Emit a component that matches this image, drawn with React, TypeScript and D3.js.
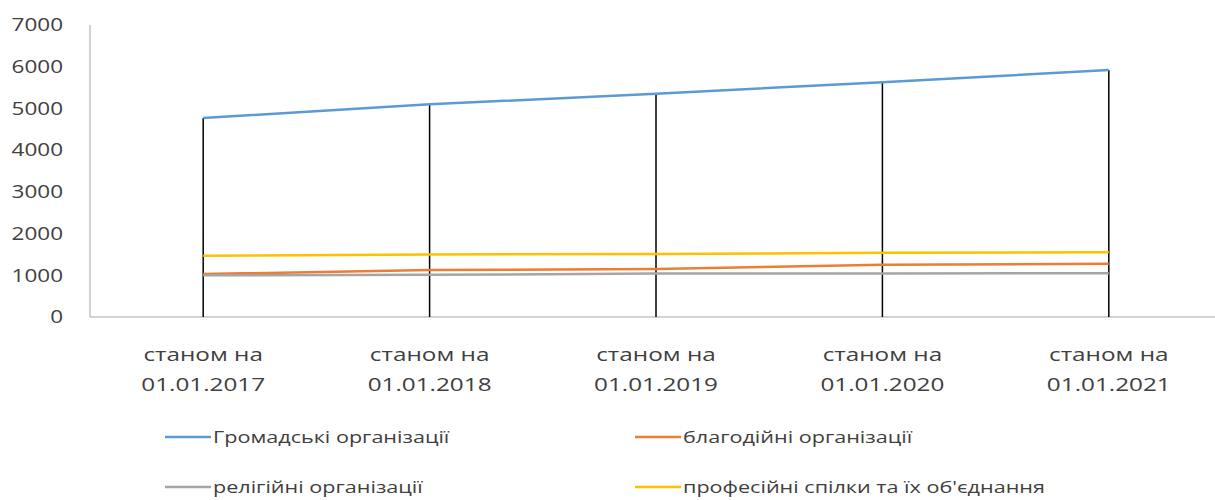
import React from "react";
import * as d3 from "d3";

const categories = ["01.01.2017", "01.01.2018", "01.01.2019", "01.01.2020", "01.01.2021"];
const gromadski = [4770, 5100, 5350, 5630, 5920];
const blagodiini = [1030, 1125, 1150, 1250, 1275];
const religiini = [1000, 1010, 1040, 1045, 1050];
const profspilky = [1470, 1500, 1510, 1540, 1550];
const yTicks = [0, 1000, 2000, 3000, 4000, 5000, 6000, 7000];

const series = [
  { name: "Громадські організації", values: gromadski, color: "#5B9BD5" },
  { name: "благодійні організації", values: blagodiini, color: "#ED7D31" },
  { name: "релігійні організації", values: religiini, color: "#A5A5A5" },
  { name: "професійні спілки та їх об'єднання", values: profspilky, color: "#FFC000" },
];

const App = () => {
  const svgRef = React.useRef<SVGSVGElement>(null);
  const width = 1215;
  const height = 500;

  React.useEffect(() => {
    const svg = d3.select(svgRef.current);
    svg.selectAll("*").remove();

    const left = 90;
    const x = d3.scaleBand().domain(categories).range([left, left + 5 * 226.4]);
    const cx = (c: string) => (x(c) as number) + x.bandwidth() / 2;
    const y = d3.scaleLinear().domain([0, 7000]).range([317, 25]);

    const font = "'Open Sans', 'Noto Sans', sans-serif";
    // the source text is rendered wide, so stretch it horizontally
    const label = (sel: any, tx: any, ty: any, sx: number, size = 18) =>
      sel.append("g").attr("transform", (d: any, i: number) =>
        `translate(${typeof tx === "function" ? tx(d, i) : tx},${typeof ty === "function" ? ty(d, i) : ty}) scale(${sx},1)`)
        .append("text")
        .attr("font-family", font)
        .attr("font-size", size)
        .attr("fill", "#404040");

    // axes
    const g = svg.append("g");
    g.append("line")
      .attr("x1", left).attr("x2", left)
      .attr("y1", y(7000)).attr("y2", y(0))
      .attr("stroke", "#a6a6a6").attr("stroke-width", 1);
    g.append("line")
      .attr("x1", left).attr("x2", width)
      .attr("y1", y(0)).attr("y2", y(0))
      .attr("stroke", "#a6a6a6").attr("stroke-width", 1);

    const yt = g.selectAll(".ytick").data(yTicks).enter();
    label(yt, 63, (d: number) => y(d), 1.25)
      .attr("dy", "0.35em")
      .attr("text-anchor", "end")
      .text((d: number) => d);

    const xc = g.selectAll(".xlab").data(categories).enter();
    label(xc, (d: string) => cx(d), 361, 1.35)
      .attr("text-anchor", "middle")
      .text("станом на");
    label(xc, (d: string) => cx(d), 391, 1.35)
      .attr("text-anchor", "middle")
      .text((d: string) => d);

    // drop lines from top series to axis
    g.selectAll(".drop")
      .data(categories)
      .enter().append("line")
      .attr("x1", d => cx(d)).attr("x2", d => cx(d))
      .attr("y1", (d, i) => y(d3.max(series, s => s.values[i]) as number))
      .attr("y2", y(0))
      .attr("stroke", "#000").attr("stroke-width", 1.5);

    const line = d3.line<number>()
      .x((d, i) => cx(categories[i]))
      .y(d => y(d));

    svg.append("g").selectAll("path")
      .data(series)
      .enter().append("path")
      .attr("d", s => line(s.values))
      .attr("fill", "none")
      .attr("stroke", s => s.color)
      .attr("stroke-width", 2.5);

    // legend
    const legendPos = [
      { x: 165, y: 437 },
      { x: 635, y: 437 },
      { x: 165, y: 487 },
      { x: 635, y: 487 },
    ];
    const lg = svg.append("g").selectAll("g")
      .data(series)
      .enter().append("g")
      .attr("transform", (d, i) => `translate(${legendPos[i].x},${legendPos[i].y})`);
    lg.append("line")
      .attr("x1", 0).attr("x2", 46)
      .attr("stroke", s => s.color).attr("stroke-width", 2.5);
    label(lg, 48, 0, 1.27, 17)
      .attr("dy", "0.35em")
      .text((s: any) => s.name);
  }, []);

  return (
    <svg ref={svgRef} width={width} height={height}
      style={{ position: "absolute", left: 0, top: 0, background: "#fff" }} />
  );
};

export default App;
